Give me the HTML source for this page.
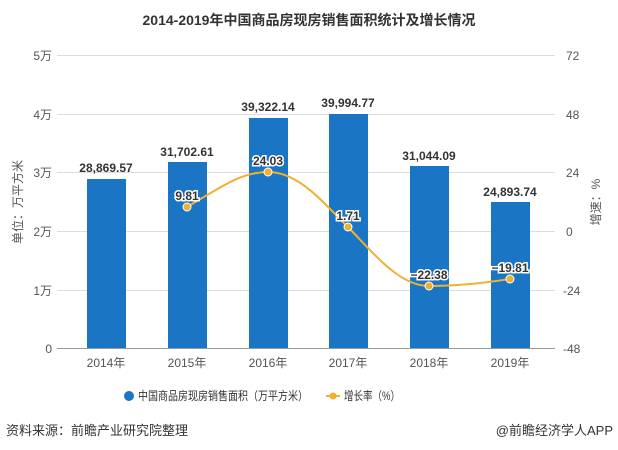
<!DOCTYPE html>
<html><head><meta charset="utf-8"><style>
body{margin:0;background:#fff;}
svg{display:block;font-family:"Liberation Sans","Noto Sans CJK SC",sans-serif;}
</style></head><body>
<svg width="618" height="450" viewBox="0 0 618 450">
<text x="309" y="25" text-anchor="middle" font-size="14" font-weight="bold" fill="#333">2014-2019年中国商品房现房销售面积统计及增长情况</text>
<g stroke="#ddd" stroke-width="1">
<line x1="57" y1="55.5" x2="555" y2="55.5"/>
<line x1="57" y1="114.5" x2="555" y2="114.5"/>
<line x1="57" y1="172.5" x2="555" y2="172.5"/>
<line x1="57" y1="231.5" x2="555" y2="231.5"/>
<line x1="57" y1="290.5" x2="555" y2="290.5"/>
</g>
<line x1="57" y1="348.5" x2="555" y2="348.5" stroke="#999"/>
<g font-size="12" fill="#555" text-anchor="end">
<text x="52" y="60">5万</text><text x="52" y="119">4万</text><text x="52" y="177">3万</text>
<text x="52" y="236">2万</text><text x="52" y="295">1万</text><text x="52" y="353">0</text>
</g>
<g font-size="12" fill="#555" text-anchor="start">
<text x="566" y="60">72</text><text x="566" y="119">48</text><text x="566" y="177">24</text>
<text x="566" y="236">0</text><text x="563" y="295">-24</text><text x="563" y="353">-48</text>
</g>
<text transform="translate(22,202) rotate(-90)" font-size="12" fill="#555" text-anchor="middle">单位：万平方米</text>
<text transform="translate(600,202) rotate(-90)" font-size="12" fill="#555" text-anchor="middle">增速：%</text>
<g fill="#1a75c4">
<rect x="87" y="179" width="39" height="169"/>
<rect x="168" y="162" width="39" height="186"/>
<rect x="249" y="118" width="39" height="230"/>
<rect x="329" y="114" width="39" height="234"/>
<rect x="410" y="166" width="39" height="182"/>
<rect x="491" y="202" width="39" height="146"/>
</g>
<g font-size="12" font-weight="bold" fill="#333" text-anchor="middle">
<text x="106" y="172">28,869.57</text>
<text x="187" y="156">31,702.61</text>
<text x="268" y="111">39,322.14</text>
<text x="348" y="107">39,994.77</text>
<text x="429" y="160">31,044.09</text>
<text x="510" y="196">24,893.74</text>
</g>
<g font-size="12" fill="#555" text-anchor="middle">
<text x="106" y="367">2014年</text><text x="187" y="367">2015年</text><text x="268" y="367">2016年</text>
<text x="348" y="367">2017年</text><text x="429" y="367">2018年</text><text x="510" y="367">2019年</text>
</g>
<path d="M187,207 C220,188 240,172 268,172 C300,172 325,205 348,227 C375,255 400,286 429,286 C460,286 485,283 510,279" fill="none" stroke="#f0b030" stroke-width="2"/>
<g fill="#f0b030" stroke="#fff" stroke-width="1">
<circle cx="187" cy="207" r="4"/><circle cx="268" cy="172" r="4"/><circle cx="348" cy="227" r="4"/>
<circle cx="429" cy="286" r="4"/><circle cx="510" cy="279" r="4"/>
</g>
<g font-size="12" font-weight="bold" fill="#333" text-anchor="middle" stroke="#fff" stroke-width="3" paint-order="stroke">
<text x="187" y="200">9.81</text><text x="268" y="165">24.03</text><text x="348" y="220">1.71</text>
<text x="429" y="279">−22.38</text><text x="510" y="272">−19.81</text>
</g>
<circle cx="129" cy="396" r="5" fill="#1a75c4"/>
<text x="138" y="400" font-size="12" fill="#333" textLength="170" lengthAdjust="spacingAndGlyphs">中国商品房现房销售面积（万平方米）</text>
<line x1="326" y1="396" x2="340" y2="396" stroke="#f0b030" stroke-width="2"/>
<circle cx="333" cy="396" r="3.5" fill="#f0b030"/>
<text x="344" y="400" font-size="12" fill="#333" textLength="56" lengthAdjust="spacingAndGlyphs">增长率（%）</text>
<text x="6" y="435" font-size="13" fill="#333">资料来源：前瞻产业研究院整理</text>
<text x="613" y="435" font-size="13" fill="#333" text-anchor="end">@前瞻经济学人APP</text>
</svg>
</body></html>
